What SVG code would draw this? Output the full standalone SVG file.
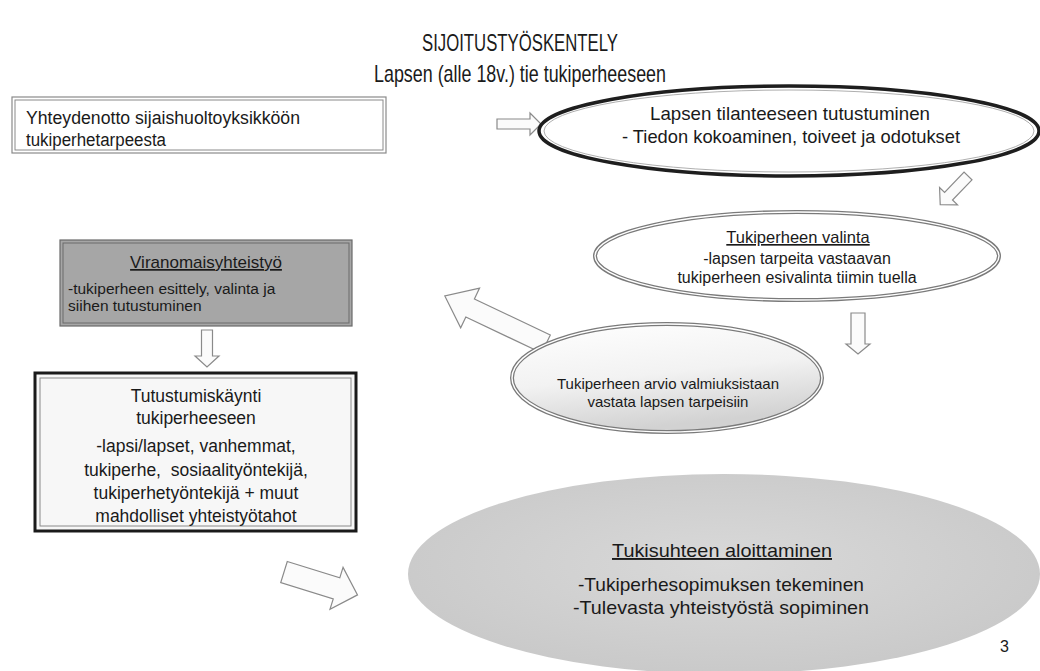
<svg xmlns="http://www.w3.org/2000/svg" width="1040" height="671" viewBox="0 0 1040 671">
<style>
text{font-family:"Liberation Sans",Arial,sans-serif;fill:#1a1a1a}
.arrow{fill:#fbfbfb;stroke:#8a8a8a;stroke-width:1.2;stroke-linejoin:miter}
.dbl{fill:none;stroke:#7a7a7a;stroke-width:4}
.dblin{fill:none;stroke:#ffffff;stroke-width:1.4}
.u{text-decoration:underline}
</style>
<defs>
<linearGradient id="g3" x1="0" y1="0" x2="0.3" y2="1">
<stop offset="0" stop-color="#ffffff"/>
<stop offset="0.55" stop-color="#f2f2f2"/>
<stop offset="1" stop-color="#d2d2d2"/>
</linearGradient>
<radialGradient id="gb" cx="0.5" cy="0.45" r="0.6">
<stop offset="0" stop-color="#d9d9d9"/>
<stop offset="1" stop-color="#c8c8c8"/>
</radialGradient>
</defs>
<rect width="1040" height="671" fill="#ffffff"/>

<g id="title">
<text x="520" y="51" font-size="24" text-anchor="middle" textLength="196" lengthAdjust="spacingAndGlyphs">SIJOITUSTYÖSKENTELY</text>
<text x="520" y="82" font-size="24" text-anchor="middle" textLength="292" lengthAdjust="spacingAndGlyphs">Lapsen (alle 18v.) tie tukiperheeseen</text>
</g>

<g id="connectors">
<polygon class="arrow" transform="translate(497,124)" points="0,-5 33,-5 33,-11 44,0 33,11 33,5 0,5"/>
<polygon class="arrow" transform="translate(968,176) rotate(134)" points="0,-5.5 28,-5.5 28,-12.5 40,0 28,12.5 28,5.5 0,5.5"/>
<polygon class="arrow" transform="translate(858,313) rotate(90)" points="0,-7 31,-7 31,-12 41,0 31,12 31,7 0,7"/>
<polygon class="arrow" transform="translate(546,344) rotate(205.4)" points="0,-10 84,-10 84,-22 112,0 84,22 84,10 0,10"/>
<polygon class="arrow" transform="translate(207,330) rotate(90)" points="0,-5.5 26,-5.5 26,-12 37,0 26,12 26,5.5 0,5.5"/>
<polygon class="arrow" transform="translate(284,572) rotate(17.3)" points="0,-11 55,-11 55,-22 77,0 55,22 55,11 0,11"/>
</g>

<g id="n-yhteydenotto">
<rect x="12" y="97" width="374" height="56" fill="#ffffff" stroke="#8a8a8a" stroke-width="1.2"/>
<rect x="15" y="100" width="368" height="50" fill="none" stroke="#8a8a8a" stroke-width="1"/>
<text x="26" y="124" font-size="18" textLength="274" lengthAdjust="spacingAndGlyphs">Yhteydenotto sijaishuoltoyksikköön</text>
<text x="26" y="146" font-size="18" textLength="140" lengthAdjust="spacingAndGlyphs">tukiperhetarpeesta</text>
</g>

<g id="n-tilanne">
<ellipse cx="789" cy="131" rx="250" ry="45" fill="#ffffff" stroke="#1e1e1e" stroke-width="3.5"/>
<ellipse cx="789" cy="131" rx="245" ry="41" fill="none" stroke="#9a9a9a" stroke-width="0.8"/>
<text x="790" y="120" font-size="19" text-anchor="middle" textLength="280" lengthAdjust="spacingAndGlyphs">Lapsen tilanteeseen tutustuminen</text>
<text x="791" y="143" font-size="19" text-anchor="middle" textLength="338" lengthAdjust="spacingAndGlyphs">- Tiedon kokoaminen, toiveet ja odotukset</text>
</g>

<g id="n-valinta">
<ellipse cx="797" cy="256" rx="202" ry="44" fill="#ffffff"/>
<ellipse class="dbl" cx="797" cy="256" rx="202" ry="44"/>
<ellipse class="dblin" cx="797" cy="256" rx="202" ry="44"/>
<text x="798" y="243" font-size="16.5" text-anchor="middle" class="u">Tukiperheen valinta</text>
<text x="797" y="264" font-size="16" text-anchor="middle">-lapsen tarpeita vastaavan</text>
<text x="797" y="283" font-size="16" text-anchor="middle">tukiperheen esivalinta tiimin tuella</text>
</g>

<g id="n-arvio">
<ellipse cx="667" cy="378" rx="155" ry="54" fill="url(#g3)"/>
<ellipse class="dbl" cx="667" cy="378" rx="155" ry="54"/>
<ellipse class="dblin" cx="667" cy="378" rx="155" ry="54"/>
<text x="668" y="389" font-size="15" text-anchor="middle">Tukiperheen arvio valmiuksistaan</text>
<text x="668" y="407" font-size="15" text-anchor="middle">vastata lapsen tarpeisiin</text>
</g>

<g id="n-viranomais">
<rect x="60" y="240" width="292" height="86" fill="#a6a6a6" stroke="#6a6a6a" stroke-width="1.2"/>
<rect x="63" y="243" width="286" height="80" fill="none" stroke="#6a6a6a" stroke-width="1"/>
<text x="206" y="268" font-size="17" text-anchor="middle" class="u">Viranomaisyhteistyö</text>
<text x="68" y="294" font-size="15.5">-tukiperheen esittely, valinta ja</text>
<text x="68" y="311" font-size="15.5">siihen tutustuminen</text>
</g>

<g id="n-tutustumiskaynti">
<rect x="35" y="373" width="321" height="158" fill="#f7f7f7" stroke="#1a1a1a" stroke-width="3"/>
<rect x="40" y="378" width="311" height="148" fill="none" stroke="#8a8a8a" stroke-width="1"/>
<text x="196" y="402" font-size="17.5" text-anchor="middle">Tutustumiskäynti</text>
<text x="196" y="424" font-size="17.5" text-anchor="middle">tukiperheeseen</text>
<text x="196" y="452" font-size="17.5" text-anchor="middle">-lapsi/lapset, vanhemmat,</text>
<text x="196" y="476" font-size="17.5" text-anchor="middle" xml:space="preserve">tukiperhe,  sosiaalityöntekijä,</text>
<text x="196" y="499" font-size="17.5" text-anchor="middle">tukiperhetyöntekijä + muut</text>
<text x="196" y="522" font-size="17.5" text-anchor="middle">mahdolliset yhteistyötahot</text>
</g>

<g id="n-tukisuhde">
<ellipse cx="724" cy="574" rx="316" ry="100" fill="url(#gb)"/>
<text x="722" y="557" font-size="19" text-anchor="middle" class="u" textLength="220" lengthAdjust="spacingAndGlyphs">Tukisuhteen aloittaminen</text>
<text x="721" y="591" font-size="19" text-anchor="middle" textLength="286" lengthAdjust="spacingAndGlyphs">-Tukiperhesopimuksen tekeminen</text>
<text x="721" y="614" font-size="19" text-anchor="middle" textLength="296" lengthAdjust="spacingAndGlyphs">-Tulevasta yhteistyöstä sopiminen</text>
</g>

<text x="1000" y="652" font-size="16" fill="#444">3</text>
</svg>
